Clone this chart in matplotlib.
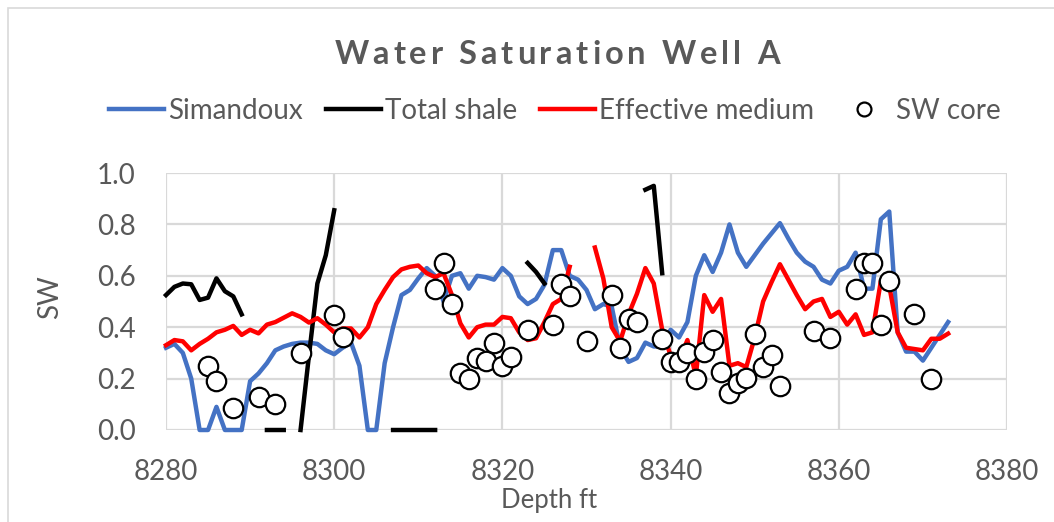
import numpy as np
import matplotlib
matplotlib.use("Agg")
import matplotlib.pyplot as plt
from matplotlib.lines import Line2D
from matplotlib.patches import Rectangle

plt.rcParams['font.family'] = ['Lato', 'DejaVu Sans']

# ---- data ----
depth = list(range(8280, 8374))

simandoux = [0.32, 0.335, 0.30, 0.20, 0.0, 0.0, 0.09, 0.0, 0.0, 0.0,
             0.19, 0.22, 0.26, 0.31, 0.325, 0.335, 0.34, 0.34, 0.335, 0.31,
             0.295, 0.32, 0.34, 0.25, 0.0, 0.0, 0.26, 0.40, 0.525, 0.545,
             0.59, 0.63, 0.60, 0.50, 0.60, 0.61, 0.55, 0.60, 0.595, 0.585,
             0.63, 0.60, 0.52, 0.49, 0.51, 0.565, 0.70, 0.70, 0.60, 0.585,
             0.545, 0.47, 0.49, 0.48, 0.32, 0.265, 0.28, 0.34, 0.325, 0.325,
             0.39, 0.36, 0.42, 0.60, 0.68, 0.615, 0.69, 0.80, 0.69, 0.635,
             0.68, 0.725, 0.765, 0.805, 0.745, 0.69, 0.655, 0.635, 0.585, 0.57,
             0.62, 0.635, 0.69, 0.55, 0.55, 0.82, 0.85, 0.38, 0.305, 0.305,
             0.27, 0.32, 0.37, 0.42]

effective_medium = [0.33, 0.35, 0.345, 0.31, 0.335, 0.355, 0.38, 0.39, 0.405, 0.37,
                    0.39, 0.376, 0.41, 0.42, 0.437, 0.454, 0.44, 0.418, 0.435, 0.41,
                    0.38, 0.395, 0.395, 0.36, 0.40, 0.49, 0.545, 0.595, 0.625, 0.635,
                    0.64, 0.61, 0.595, 0.61, 0.525, 0.415, 0.36, 0.40, 0.41, 0.41,
                    0.44, 0.435, 0.38, 0.35, 0.357, 0.42, 0.49, 0.51, 0.635, np.nan,
                    np.nan, 0.71, 0.59, 0.40, 0.345, 0.45, 0.53, 0.63, 0.57, 0.39,
                    0.29, 0.27, 0.35, 0.21, 0.525, 0.46, 0.51, 0.25, 0.26, 0.245,
                    0.36, 0.50, 0.575, 0.645, 0.585, 0.525, 0.47, 0.50, 0.51, 0.44,
                    0.46, 0.41, 0.45, 0.37, 0.38, 0.58, 0.56, 0.38, 0.32, 0.315,
                    0.31, 0.355, 0.355, 0.375]

shale_depth = [8280, 8281, 8282, 8283, 8284, 8285, 8286, 8287, 8288, 8289, 8290,
               8292, 8293, 8294, 8295,
               8296, 8297, 8298, 8299, 8300, 8301,
               8307, 8308, 8309, 8310, 8311, 8312, 8313,
               8323, 8324, 8325, 8326,
               8337, 8338, 8339]
total_shale = [0.525, 0.557, 0.57, 0.567, 0.506, 0.515, 0.59, 0.54, 0.52, 0.45, np.nan,
               0.0, 0.0, 0.0, np.nan,
               0.0, 0.29, 0.57, 0.68, 0.855, np.nan,
               0.0, 0.0, 0.0, 0.0, 0.0, 0.0, np.nan,
               0.65, 0.615, 0.57, np.nan,
               0.935, 0.95, 0.61]

core_depth = [8285, 8286, 8288, 8291, 8293, 8296, 8300, 8301, 8312, 8313,
              8314, 8315, 8316, 8317, 8318, 8319, 8320, 8321, 8323, 8326,
              8327, 8328, 8330, 8333, 8334, 8335, 8336, 8339, 8340, 8341,
              8342, 8343, 8344, 8345, 8346, 8347, 8348, 8349, 8350, 8351,
              8352, 8353, 8357, 8359, 8362, 8363, 8364, 8365, 8366, 8369,
              8371]
core_sw = [0.25, 0.19, 0.087, 0.13, 0.10, 0.30, 0.447, 0.36, 0.55, 0.65,
           0.49, 0.22, 0.20, 0.28, 0.27, 0.34, 0.25, 0.285, 0.39, 0.41,
           0.57, 0.52, 0.345, 0.525, 0.32, 0.43, 0.42, 0.355, 0.265, 0.265,
           0.30, 0.20, 0.305, 0.35, 0.225, 0.145, 0.184, 0.204, 0.372, 0.246,
           0.29, 0.17, 0.386, 0.357, 0.55, 0.65, 0.65, 0.41, 0.58, 0.45,
           0.20]

x_ticks = [8280, 8300, 8320, 8340, 8360, 8380]
y_ticks = [0.0, 0.2, 0.4, 0.6, 0.8, 1.0]
title = 'Water Saturation Well A'

# ---- styling ----
W, H = 1054, 522
TXT = '#595959'
GRID = '#d9d9d9'
BLUE = '#4472C4'
RED = '#FF0000'

fig = plt.figure(figsize=(W / 100, H / 100), dpi=100)
fig.patch.set_facecolor('white')
fig.patches.append(Rectangle((8 / W, -0.1), 1.2, 1 - 8 / H + 0.1, transform=fig.transFigure,
                             fill=False, edgecolor=GRID, linewidth=1.2))

L, R, T, B = 166, 1007, 173, 430
ax = fig.add_axes([L / W, 1 - B / H, (R - L) / W, (B - T) / H])
ax.set_xlim(8280, 8380)
ax.set_ylim(0, 1.0)
ax.set_xticks(x_ticks)
ax.set_yticks(y_ticks)
ax.set_yticklabels([f'{v:.1f}' for v in y_ticks])
ax.grid(True, color=GRID, linewidth=1.6)
ax.set_axisbelow(True)
for s in ax.spines.values():
    s.set_visible(False)
ax.tick_params(length=0, labelsize=20, labelcolor=TXT, pad=21)
ax.tick_params(axis='y', pad=22)

lw = 3.2
ax.plot(depth, simandoux, color=BLUE, lw=lw, clip_on=False, zorder=3)
ax.plot(shale_depth, total_shale, color='black', lw=lw, clip_on=False, zorder=3)
ax.plot(depth, effective_medium, color=RED, lw=lw, clip_on=False, zorder=4)
ax.plot(core_depth, core_sw, linestyle='none', marker='o', markersize=14,
        markerfacecolor='white', markeredgecolor='black', markeredgewidth=1.6,
        clip_on=False, zorder=5)

ax.set_ylabel('SW', fontsize=20, color=TXT)
ax.yaxis.set_label_coords((63 - L) / (R - L), (B - 297) / (B - T))
ax.set_xlabel('Depth ft', fontsize=18.5, color=TXT)
ax.xaxis.set_label_coords((549 - L) / (R - L), (B - 488) / (B - T))

# title with slight letter spacing
renderer = fig.canvas.get_renderer()
tkw = dict(fontsize=23.5, fontweight='bold', color=TXT)


def _w(s):
    t = fig.text(0, 0, s + '|', **tkw)
    w = t.get_window_extent(renderer).width
    t.remove()
    return w


bar_w = _w('')
offs = [_w(title[:i]) - bar_w for i in range(len(title) + 1)]
base_w = offs[-1]
target_w = 445.0
gap = (target_w - base_w) / (len(title) - 1)
x0 = 557 - target_w / 2
for i, ch in enumerate(title):
    if ch == ' ':
        continue
    fig.text((x0 + offs[i] + i * gap) / W, 1 - 55 / H, ch, ha='left', va='center', **tkw)

handles = [Line2D([], [], color=BLUE, lw=lw),
           Line2D([], [], color='black', lw=lw),
           Line2D([], [], color=RED, lw=lw),
           Line2D([], [], linestyle='none', marker='o', markersize=10,
                  markerfacecolor='white', markeredgecolor='black', markeredgewidth=1.6)]
labels = ['Simandoux', 'Total shale', 'Effective medium', 'SW core']
fig.legend(handles, labels, loc='center', bbox_to_anchor=(555 / W, 1 - 111 / H),
           ncol=4, frameon=False, fontsize=20, labelcolor=TXT,
           handlelength=2.0, handletextpad=0.15, columnspacing=0.8)

fig.savefig('out.png', dpi=100)
